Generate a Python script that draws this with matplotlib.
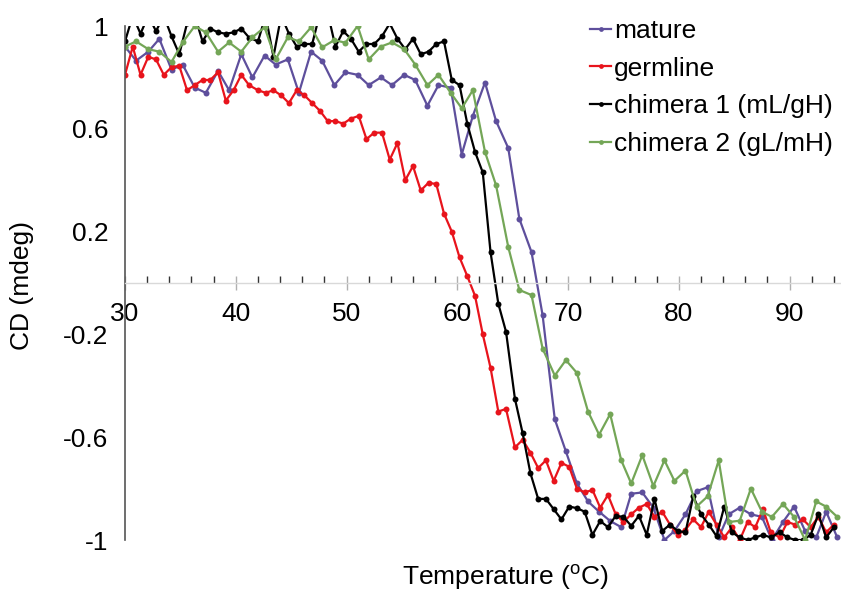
import matplotlib
matplotlib.use("Agg")
import matplotlib.pyplot as plt
from matplotlib.ticker import MultipleLocator, FixedLocator

plt.rcParams['font.family'] = ['Liberation Sans', 'DejaVu Sans']

# Temperature grids (two sampling rates)
temp_coarse = [30.0, 31.0, 32.1, 33.1, 34.2, 35.2, 36.3, 37.3, 38.4, 39.4,
               40.5, 41.5, 42.6, 43.6, 44.7, 45.7, 46.8, 47.8, 48.9, 49.9,
               51.0, 52.0, 53.1, 54.1, 55.2, 56.2, 57.3, 58.3, 59.4, 60.4,
               61.4, 62.5, 63.5, 64.6, 65.6, 66.7, 67.7, 68.8, 69.8, 70.8,
               71.8, 72.8, 73.8, 74.8, 75.7, 76.7, 77.7, 78.7, 79.6, 80.6,
               81.6, 82.6, 83.6, 84.5, 85.5, 86.5, 87.5, 88.4, 89.4, 90.4,
               91.4, 92.4, 93.3, 94.3]

temp_fine = [30.0, 30.7, 31.4, 32.1, 32.8, 33.5, 34.2, 34.9, 35.6, 36.3,
             37.0, 37.7, 38.4, 39.1, 39.8, 40.5, 41.2, 42.0, 42.7, 43.4,
             44.1, 44.8, 45.5, 46.2, 46.9, 47.6, 48.3, 49.0, 49.7, 50.4,
             51.1, 51.8, 52.5, 53.2, 53.9, 54.6, 55.3, 56.0, 56.7, 57.4,
             58.1, 58.8, 59.5, 60.2, 60.9, 61.6, 62.3, 63.0, 63.7, 64.4,
             65.2, 65.9, 66.6, 67.3, 68.0, 68.7, 69.4, 70.1, 70.8, 71.5,
             72.2, 72.9, 73.6, 74.3, 75.0, 75.7, 76.4, 77.1, 77.8, 78.5,
             79.2, 79.9, 80.6, 81.3, 82.0, 82.7, 83.4, 84.1, 84.8, 85.5,
             86.2, 86.9, 87.6, 88.3, 89.1, 89.8, 90.5, 91.2, 91.9, 92.6,
             93.3, 94.0]

# CD signal (mdeg)
mature = [0.92, 0.865, 0.90, 0.95, 0.83, 0.85, 0.76, 0.74, 0.825, 0.75,
          0.89, 0.80, 0.885, 0.85, 0.87, 0.74, 0.90, 0.865, 0.77, 0.82,
          0.81, 0.77, 0.80, 0.77, 0.81, 0.79, 0.69, 0.77, 0.76, 0.50,
          0.65, 0.78, 0.63, 0.525, 0.25, 0.12, -0.125, -0.53, -0.655, -0.78,
          -0.85, -0.89, -0.926, -0.95, -0.82, -0.815, -0.874, -1.0, -0.965, -0.90,
          -0.81, -0.795, -0.99, -0.90, -0.874, -0.90, -0.91, -1.0, -0.93, -0.87,
          -0.965, -0.99, -0.89, -0.99]

germline = [0.81, 0.92, 0.81, 0.88, 0.87, 0.81, 0.84, 0.845, 0.75, 0.77,
            0.79, 0.79, 0.82, 0.71, 0.75, 0.81, 0.77, 0.75, 0.74, 0.75,
            0.73, 0.70, 0.75, 0.73, 0.70, 0.67, 0.63, 0.63, 0.62, 0.64,
            0.65, 0.56, 0.585, 0.585, 0.48, 0.545, 0.40, 0.455, 0.36, 0.39,
            0.385, 0.27, 0.20, 0.10, 0.027, -0.05, -0.20, -0.33, -0.50, -0.49,
            -0.64, -0.61, -0.66, -0.72, -0.69, -0.77, -0.70, -0.715, -0.80, -0.815,
            -0.805, -0.874, -0.825, -0.90, -0.93, -0.90, -0.874, -0.86, -0.91, -0.89,
            -0.94, -0.98, -0.96, -0.92, -0.95, -0.89, -0.94, -0.99, -0.95, -1.0,
            -0.93, -0.95, -0.88, -0.97, -0.99, -0.93, -0.94, -0.92, -0.95, -0.91,
            -0.97, -0.94]

chimera1 = [0.94, 1.04, 0.97, 1.04, 0.98, 1.04, 0.96, 0.89, 1.01, 1.04,
            0.94, 0.99, 0.975, 0.97, 0.975, 0.99, 0.955, 0.94, 1.04, 0.88,
            1.04, 0.97, 0.92, 0.93, 0.93, 1.05, 1.05, 0.92, 0.98, 0.95,
            0.90, 0.93, 0.93, 0.96, 1.01, 0.95, 0.91, 0.95, 0.89, 0.90,
            0.93, 0.94, 0.79, 0.77, 0.62, 0.51, 0.43, 0.12, -0.08, -0.19,
            -0.45, -0.585, -0.74, -0.84, -0.84, -0.88, -0.92, -0.87, -0.876, -0.89,
            -0.98, -0.926, -0.95, -0.906, -0.91, -0.945, -0.906, -0.98, -0.84, -0.965,
            -0.94, -0.965, -0.97, -0.83, -0.90, -0.94, -0.985, -0.87, -0.97, -0.99,
            -1.0, -0.99, -0.98, -0.99, -0.97, -0.99, -1.0, -1.0, -0.98, -0.90,
            -0.99, -0.95]

chimera2 = [0.92, 0.94, 0.91, 0.90, 0.86, 0.936, 1.0, 0.975, 0.90, 0.936,
            0.90, 0.956, 0.995, 0.87, 0.956, 0.94, 0.995, 0.917, 0.945, 0.935,
            1.0, 0.87, 0.92, 0.936, 0.91, 0.85, 0.77, 0.81, 0.74, 0.68,
            0.75, 0.51, 0.38, 0.14, -0.027, -0.047, -0.255, -0.36, -0.30, -0.35,
            -0.50, -0.59, -0.51, -0.69, -0.78, -0.67, -0.79, -0.69, -0.77, -0.73,
            -0.87, -0.83, -0.69, -0.93, -0.925, -0.80, -0.89, -0.91, -0.86, -0.91,
            -1.0, -0.85, -0.87, -0.91]

labels = ['mature', 'germline', 'chimera 1 (mL/gH)', 'chimera 2 (gL/mH)']
colors = ['#5e4f9c', '#e8141c', '#000000', '#74a657']

fig = plt.figure(figsize=(8.41, 5.91), dpi=100)
ax = fig.add_axes([125 / 841, 51 / 591, 720 / 841, 514 / 591])

series = [(temp_coarse, mature), (temp_fine, germline),
          (temp_fine, chimera1), (temp_coarse, chimera2)]
for (t, cd), lab, col in zip(series, labels, colors):
    ax.plot(t, cd, color=col, lw=1.6, marker='o', markersize=4.3,
            markeredgewidth=0, label=lab)

ax.set_xlim(30, 95)
ax.set_ylim(-1, 1)

# axes styling (Excel-like: x axis crossing at 0)
ax.spines['top'].set_visible(False)
ax.spines['right'].set_visible(False)
ax.spines['bottom'].set_position(('data', 0))
ax.spines['bottom'].set_color('#d9d9d9')
ax.spines['bottom'].set_linewidth(1.0)
ax.spines['left'].set_color('#555555')
ax.spines['left'].set_linewidth(1.2)

ax.xaxis.set_major_locator(FixedLocator([30, 40, 50, 60, 70, 80, 90]))
ax.xaxis.set_minor_locator(MultipleLocator(2))
ax.set_yticks([1, 0.6, 0.2, -0.2, -0.6, -1])
ax.set_yticklabels(['1', '0.6', '0.2', '-0.2', '-0.6', '-1'])

ax.tick_params(axis='x', which='major', direction='inout', length=10,
               color='#b0b0b0', width=1, labelsize=19, pad=9)
ax.tick_params(axis='x', which='minor', direction='in', length=5,
               color='#333333', width=1)
ax.tick_params(axis='y', which='major', length=0, labelsize=19, pad=12)

fig.text(22 / 841, 1 - 285 / 591, 'CD (mdeg)', rotation=90, fontsize=19,
         ha='center', va='center')
fig.text(505 / 841, 1 - 578 / 591, r'Temperature ($\mathregular{^{o}}$C)',
         fontsize=19, ha='center', va='center')

ax.legend(loc='upper left', bbox_to_anchor=(590 / 841, 1 - 19 / 591),
          bbox_transform=fig.transFigure, frameon=False, fontsize=19,
          handlelength=0.8, handletextpad=0.1, labelspacing=0.52,
          borderpad=0, borderaxespad=0, markerscale=0.8)

fig.savefig('out.png', dpi=100)
